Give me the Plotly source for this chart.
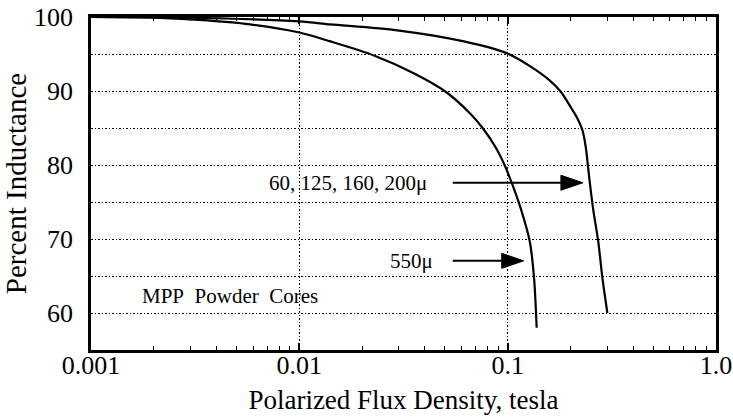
import math
import plotly.graph_objects as go

# --- data -------------------------------------------------------------------
flux_mpp = [0.001, 0.003, 0.01, 0.0141, 0.0295, 0.0617, 0.0991, 0.129, 0.158,
            0.1799, 0.201, 0.2163, 0.2286, 0.2371, 0.2432, 0.2506, 0.258,
            0.272, 0.285, 0.301]
ind_mpp = [100, 99.9, 99.4, 99.0, 98.2, 96.7, 95.1, 93.3, 91.5,
           89.9, 87.8, 86.3, 84.7, 82.4, 79.7, 76.5, 73.8,
           69.7, 64.7, 60.0]

flux_550 = [0.001, 0.002, 0.0033, 0.0058, 0.01, 0.0141, 0.0228, 0.0354, 0.0504,
            0.0664, 0.0763, 0.0875, 0.0977, 0.1052, 0.1156, 0.1276, 0.1339, 0.1378]
ind_550 = [100, 99.9, 99.6, 99.0, 97.9, 96.7, 94.8, 92.4, 89.9,
           86.9, 84.9, 82.4, 79.7, 77.4, 74.1, 69.7, 64.7, 58.0]

x_tickvals = [0.001, 0.01, 0.1, 1.0]
x_ticktext = ["0.001", "0.01", "0.1", "1.0"]
x_minor = [m * d for d in (0.001, 0.01, 0.1) for m in range(2, 10)]
y_tickvals = [60, 65, 70, 75, 80, 85, 90, 95, 100]
y_ticktext = ["60", "", "70", "", "80", "", "90", "", "100"]

label_mpp = "60, 125, 160, 200\u03bc"
label_550 = "550\u03bc"
label_note = "MPP&nbsp;&nbsp;Powder&nbsp;&nbsp;Cores"

# arrows: (tail x, tip x, y)
arrow_mpp = (0.0545, 0.2297, 77.6)
arrow_550 = (0.0545, 0.1194, 67.05)

FONT = "Liberation Serif, Times New Roman, serif"

fig = go.Figure()
for xs, ys in ((flux_mpp, ind_mpp), (flux_550, ind_550)):
    fig.add_trace(go.Scatter(x=xs, y=ys, mode="lines",
                             line=dict(color="black", width=2.2, shape="spline", smoothing=0.8),
                             showlegend=False, hoverinfo="skip"))

shapes = []
for tail, tip, yv in (arrow_mpp, arrow_550):
    shapes.append(dict(type="line", xref="x", yref="y", x0=tail, x1=tip * 0.93, y0=yv, y1=yv,
                       line=dict(color="black", width=2)))
    shapes.append(dict(type="path", xref="x", yref="y", xsizemode="pixel", ysizemode="pixel",
                       xanchor=tip, yanchor=yv,
                       path="M -22 -7.5 L 0 0 L -22 7.5 Z",
                       fillcolor="black", line=dict(color="black", width=1)))

annotations = [
    dict(x=math.log10(0.0420), y=77.6, xref="x", yref="y", text=label_mpp, showarrow=False,
         xanchor="right", yanchor="middle", font=dict(size=21)),
    dict(x=math.log10(0.0450), y=67.05, xref="x", yref="y", text=label_550, showarrow=False,
         xanchor="right", yanchor="middle", font=dict(size=21)),
    dict(x=math.log10(0.00172), y=62.3, xref="x", yref="y", text=label_note, showarrow=False,
         xanchor="left", yanchor="middle", font=dict(size=21)),
]

fig.update_layout(
    width=733, height=418,
    margin=dict(l=91, r=17, t=17, b=68, autoexpand=False),
    paper_bgcolor="white", plot_bgcolor="white",
    font=dict(family=FONT, color="black", size=26),
    shapes=shapes, annotations=annotations,
)
fig.update_xaxes(
    type="log", range=[-3, 0], automargin=False,
    tickvals=x_tickvals, ticktext=x_ticktext,
    ticks="inside", ticklen=7, tickwidth=1.5, tickcolor="black",
    minor=dict(tickvals=x_minor, ticks="inside", ticklen=4, tickwidth=1.2, tickcolor="black",
               showgrid=False),
    showline=True, linewidth=2.5, linecolor="black", mirror="allticks",
    showgrid=True, gridcolor="black", gridwidth=1.3, griddash="1.5px,2px",
    zeroline=False, tickfont=dict(size=26), ticklabelstandoff=-10,
    ticklabeloverflow="allow",
    title=dict(text="Polarized Flux Density, tesla", font=dict(size=27), standoff=12),
)
fig.update_yaxes(
    range=[55, 100], tickvals=y_tickvals, ticktext=y_ticktext, automargin=False,
    ticks="", showline=True, linewidth=2.5, linecolor="black", mirror=True,
    showgrid=True, gridcolor="black", gridwidth=1.3, griddash="1.5px,2px",
    zeroline=False, tickfont=dict(size=26), ticklabelstandoff=10,
    ticklabeloverflow="allow",
    title=dict(text="Percent Inductance", font=dict(size=29), standoff=7),
)

# remove the browser's default 8px body margin so the 733x418 figure fills the window
fig.write_html("out.html",
               config={"displayModeBar": False},
               post_script="document.body.style.margin='0';document.body.style.overflow='hidden';")
